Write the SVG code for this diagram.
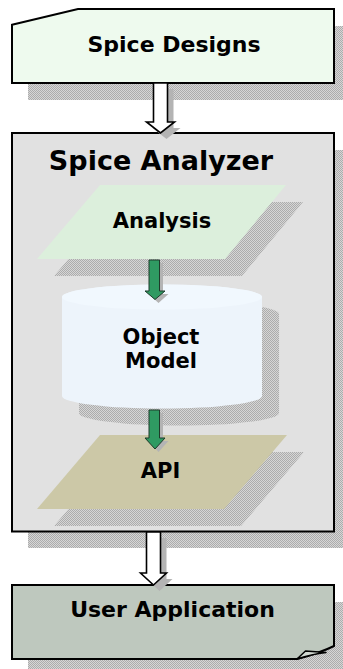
<svg xmlns="http://www.w3.org/2000/svg" width="343" height="669" viewBox="0 0 343 669">
<style>
.lbl{font-family:"DejaVu Sans","Verdana",sans-serif;font-weight:bold;fill:#000;text-anchor:middle}
.box{stroke:#000;stroke-width:2}
.sh{fill:url(#dither)}
.harrow{fill:#fff;stroke:#000;stroke-width:1.6;stroke-linejoin:miter}
.garrow{fill:#2f9a62;stroke:#1e3a2a;stroke-width:1}
</style>
<defs>
<pattern id="dither" width="2" height="2" patternUnits="userSpaceOnUse">
<rect width="2" height="2" fill="#d6d6d6"/>
<rect width="1" height="1" fill="#acacac"/>
<rect x="1" y="1" width="1" height="1" fill="#acacac"/>
</pattern>
</defs>

<g id="spice-designs">
<path class="sh" d="M28,41.7 L95,26 H351 V100 H28 Z"/>
<path class="box" fill="#eefaee" d="M12,24.7 L78,9 H334 V83 H12 Z"/>
<text class="lbl" x="174" y="51.5" font-size="22">Spice Designs</text>
</g>

<g id="spice-analyzer">
<rect class="sh" x="28" y="150" width="322" height="398"/>
<rect class="box" fill="#e1e1e1" x="12" y="133" width="322" height="398.5"/>
<text class="lbl" x="161" y="170" font-size="27">Spice Analyzer</text>
</g>

<g id="analysis">
<path class="sh" d="M117,202 H303 L242,276 H54 Z"/>
<path fill="#dcefdc" d="M100,185 H286 L225,259 H37 Z"/>
<text class="lbl" x="162" y="228" font-size="21">Analysis</text>
</g>

<g id="object-model">
<path class="sh" d="M79,314 A100,12.5 0 0 1 279,314 V413 A100,12.5 0 0 1 79,413 Z"/>
<path fill="#edf4fb" d="M62,297 A100,12.5 0 0 1 262,297 V396 A100,12.5 0 0 1 62,396 Z"/>
<ellipse cx="162" cy="297" rx="100" ry="12.5" fill="#f1f8fe"/>
<text class="lbl" x="161" y="344" font-size="21">Object</text>
<text class="lbl" x="161" y="368" font-size="21">Model</text>
</g>

<g id="api">
<path class="sh" d="M117,452 H304 L241,526 H54 Z"/>
<path fill="#ccc8a7" d="M100,435 H287 L224,509 H37 Z"/>
<text class="lbl" x="160.5" y="478" font-size="21">API</text>
</g>

<g id="user-application">
<path class="sh" d="M28,602 H350 V680 H28 Z"/>
<path class="box" fill="#bec8be" d="M12,585 H334 V646 Q320,653 297,659 H12 Z"/>
<path fill="#d3dad3" stroke="#000" stroke-width="1.5" stroke-linejoin="round" d="M297,659 L305.5,651 L326,652.5 Q312,654 297,659 Z"/>
<text class="lbl" x="172.5" y="617" font-size="22">User Application</text>
</g>

<g id="connectors">
<path fill="#b4b4b4" d="M159.5,89 H173.5 V128 H180.5 L166.5,139 L152.5,128 H159.5 Z"/>
<path class="harrow" d="M153.5,83 H167.5 V122 H174.5 L160.5,133 L146.5,122 H153.5 Z"/>

<path fill="#b4b4b4" d="M152.5,263 H163 V294 H168.5 L158.5,303 L148.5,294 H152.5 Z"/>
<path class="garrow" d="M149,260 H159.5 V291 H165 L155,299.5 L145,291 H149 Z"/>

<path fill="#b4b4b4" d="M152.5,413 H163 V441 H168.5 L158.5,452 L148.5,441 H152.5 Z"/>
<path class="garrow" d="M149,410 H159.5 V438 H165 L155,449 L145,438 H149 Z"/>

<path fill="#b4b4b4" d="M152.5,538 H166.5 V579 H172.5 L159.5,591 L146.5,579 H152.5 Z"/>
<path class="harrow" d="M146.5,532 H160.5 V573 H166.5 L153.5,585 L140.5,573 H146.5 Z"/>
</g>
</svg>
